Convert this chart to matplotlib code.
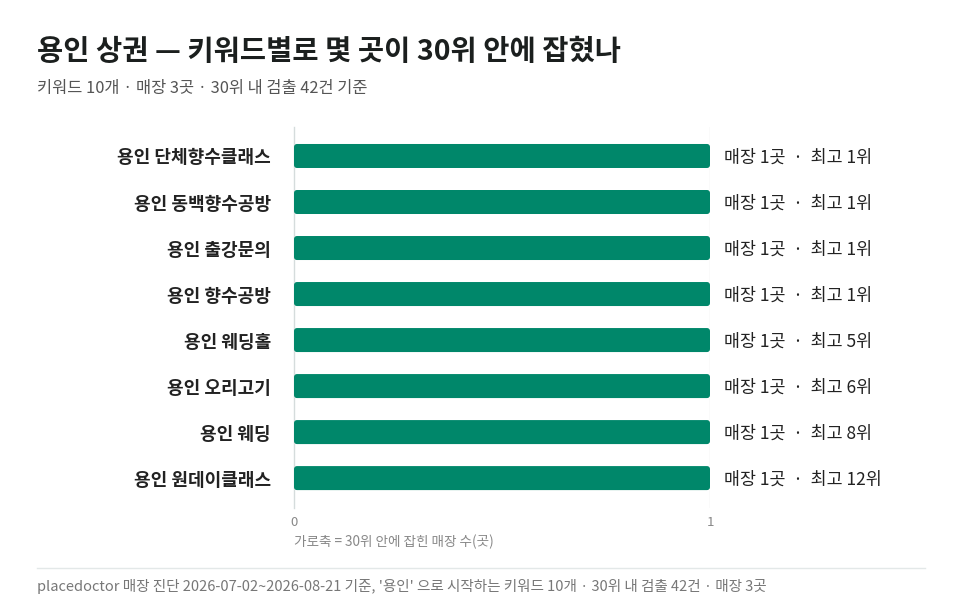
import matplotlib
matplotlib.use("Agg")
import matplotlib.pyplot as plt
from matplotlib.patches import FancyBboxPatch
from matplotlib.lines import Line2D

plt.rcParams['font.family'] = ['Noto Sans CJK KR', 'DejaVu Sans']

keywords = ['용인 단체향수클래스', '용인 동백향수공방', '용인 출강문의', '용인 향수공방',
            '용인 웨딩홀', '용인 오리고기', '용인 웨딩', '용인 원데이클래스']
stores = [1, 1, 1, 1, 1, 1, 1, 1]
best_rank = [1, 1, 1, 1, 5, 6, 8, 12]

title = '용인 상권 — 키워드별로 몇 곳이 30위 안에 잡혔나'
subtitle = '키워드 10개 · 매장 3곳 · 30위 내 검출 42건 기준'
xlabel = '가로축 = 30위 안에 잡힌 매장 수(곳)'
footer = "placedoctor 매장 진단 2026-07-02~2026-08-21 기준, '용인' 으로 시작하는 키워드 10개 · 30위 내 검출 42건 · 매장 3곳"

W, H = 960, 615
fig = plt.figure(figsize=(W / 100, H / 100), dpi=100)
ax = fig.add_axes([294 / W, 1 - 508 / H, (710 - 294) / W, (508 - 127) / H])

green = '#00876a'
ypos = list(range(len(keywords)))
bars = ax.barh(ypos, stores, height=24 / 46, color=green)

# swap plain bars for rounded ones
x_per_px = 1 / 416
y_per_px = 1 / 46
for b in bars:
    x0, y0 = b.get_x(), b.get_y()
    w, h = b.get_width(), b.get_height()
    b.set_visible(False)
    ax.add_patch(FancyBboxPatch((x0, y0), w, h,
                                boxstyle='round,pad=0,rounding_size=%f' % (3 * x_per_px),
                                mutation_aspect=y_per_px / x_per_px,
                                facecolor=green, edgecolor='none', zorder=3))

ax.set_xlim(0, 1)
ax.set_ylim(len(keywords) - 1 + 0.65, -0.63)

for s in ['top', 'right', 'bottom']:
    ax.spines[s].set_visible(False)
ax.spines['left'].set_color('#d5dcdc')
ax.spines['left'].set_linewidth(1)
ax.axvline(1, color='#e6eaea', lw=1, zorder=1)

ax.set_yticks(ypos)
ax.set_yticklabels(keywords, fontsize=13, fontweight='bold', color='#222222')
ax.tick_params(axis='y', length=0, pad=16.5)
ax.set_xticks([0, 1])
ax.set_xticklabels(['0', '1'], fontsize=9.5, color='#888888')
ax.tick_params(axis='x', length=0, pad=6)

for y, s, r in zip(ypos, stores, best_rank):
    ax.text(s + 14 * x_per_px, y + 1.5 * y_per_px, f'매장 {s}곳  ·  최고 {r}위', va='center', ha='left',
            fontsize=12.5, color='#222222', clip_on=False)

fig.text(294 / W, 1 - 542 / H, xlabel, fontsize=9.8, color='#888888', va='center', ha='left')

fig.text(37 / W, 1 - 52 / H, title, fontsize=20.5, fontweight='bold', color='#1b1f1e', va='center')
fig.text(37 / W, 1 - 89 / H, subtitle, fontsize=11.8, color='#555555', va='center')

fig.add_artist(Line2D([37 / W, 925 / W], [1 - 568 / H, 1 - 568 / H], color='#e3e8e8', lw=1))
fig.text(37 / W, 1 - 587 / H, footer, fontsize=10.5, color='#777777', va='center')

fig.savefig('out.png', dpi=100)
